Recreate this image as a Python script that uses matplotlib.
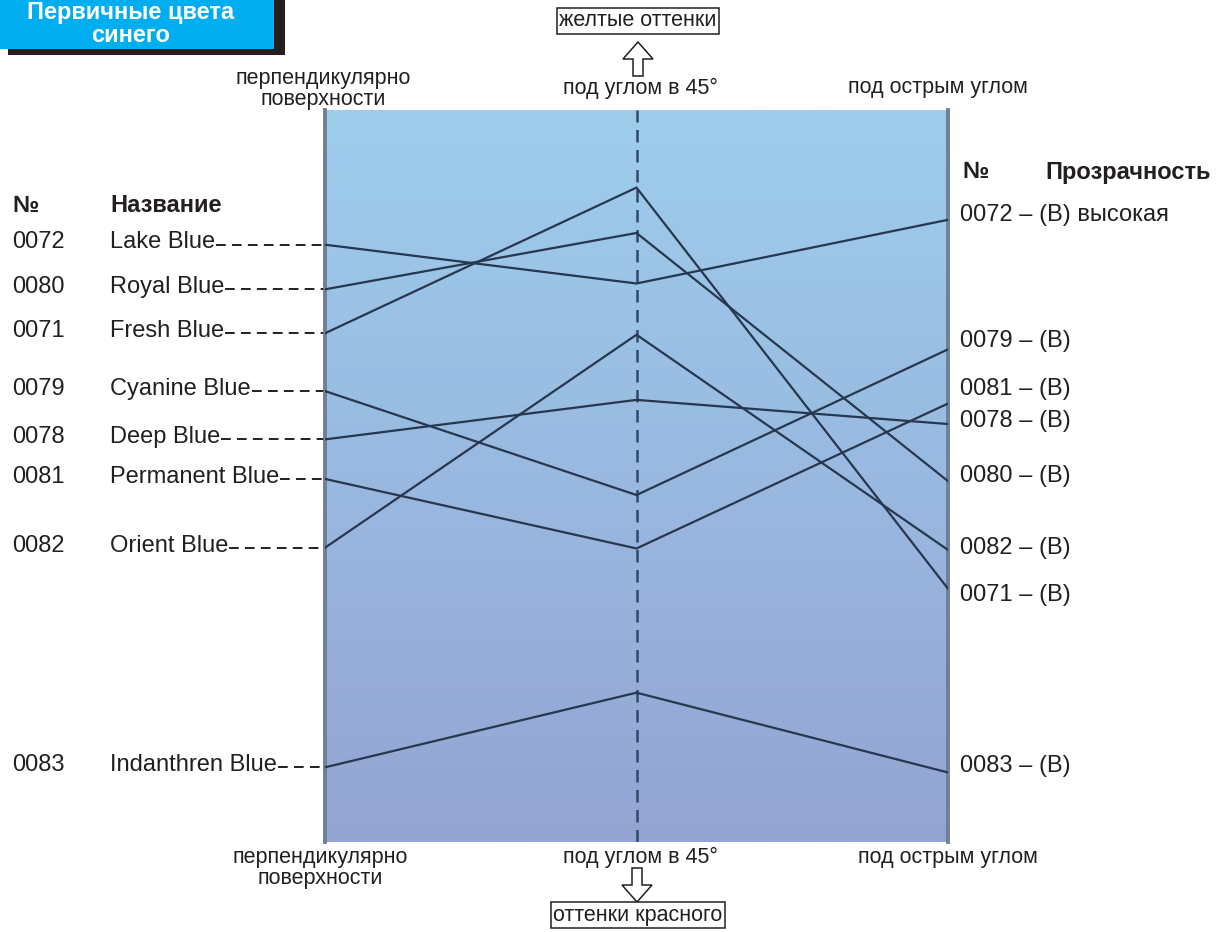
import matplotlib.pyplot as plt
import numpy as np
from matplotlib.colors import LinearSegmentedColormap
from matplotlib.patches import Rectangle, Polygon
from matplotlib.transforms import blended_transform_factory

plt.rcParams['font.family'] = ['Liberation Sans', 'DejaVu Sans']

# colours in left-hand order
codes = ["0072", "0080", "0071", "0079", "0078", "0081", "0082", "0083"]
names = ["Lake Blue", "Royal Blue", "Fresh Blue", "Cyanine Blue", "Deep Blue",
         "Permanent Blue", "Orient Blue", "Indanthren Blue"]
# relative position (0..100) at the three viewing angles
val_perp = [81.6, 75.5, 69.5, 61.6, 55.0, 49.6, 40.2, 10.2]
val_45 = [76.3, 83.2, 89.4, 47.4, 60.4, 40.1, 69.3, 20.4]
val_acute = [85.0, 49.3, 34.6, 67.3, 57.1, 59.9, 39.9, 9.5]

# right-hand column
right_codes = ["0072", "0079", "0081", "0078", "0080", "0082", "0071", "0083"]
right_notes = ["(В) высокая", "(В)", "(В)", "(В)", "(В)", "(В)", "(В)", "(В)"]
right_pos = [85.7, 68.4, 61.9, 57.5, 50.0, 40.2, 33.7, 10.4]

W, H = 1224, 932
fig = plt.figure(figsize=(W / 100, H / 100), dpi=100)
bg = fig.add_axes([0, 0, 1, 1])
bg.set_xlim(0, W)
bg.set_ylim(H, 0)
bg.axis("off")

# panel
px0, px1, py0, py1 = 325, 948, 110, 842
ax = fig.add_axes([px0 / W, 1 - py1 / H, (px1 - px0) / W, (py1 - py0) / H])
ax.set_xlim(0, 2)
ax.set_ylim(0, 100)
cmap = LinearSegmentedColormap.from_list("panel", ["#94a4d2", "#99b9e0", "#9ecdec"])
ax.imshow(np.linspace(0, 1, 256).reshape(-1, 1), extent=[0, 2, 0, 100],
          aspect="auto", cmap=cmap, origin="lower", zorder=0)
ax.set_xticks([])
ax.set_yticks([])
for s in ["top", "bottom"]:
    ax.spines[s].set_visible(False)
for s in ["left", "right"]:
    ax.spines[s].set_color("#6f7f96")
    ax.spines[s].set_linewidth(2.8)

ax.axvline(1, color="#2d4a6b", lw=1.8, dashes=(5, 3), zorder=2)
for a, b, c in zip(val_perp, val_45, val_acute):
    ax.plot([0, 1, 2], [a, b, c], color="#26374f", lw=1.6, zorder=3,
            solid_joinstyle="miter")

fs = 17
small = 15.5
ink = "#231f20"
blend = blended_transform_factory(bg.transData, ax.transData)

# left column
bg.text(12, 205, "№", fontsize=fs, fontweight="bold", va="center", color=ink)
bg.text(110, 205, "Название", fontsize=fs, fontweight="bold", va="center", color=ink)
name_texts = []
for c, n, v in zip(codes, names, val_perp):
    bg.text(12, v + 0.3, c, fontsize=fs, va="center", transform=blend, color=ink)
    t = bg.text(110, v + 0.3, n, fontsize=fs, va="center", transform=blend, color=ink)
    name_texts.append((t, v))

fig.canvas.draw()
inv = bg.transData.inverted()
for t, v in name_texts:
    bb = t.get_window_extent()
    xe = inv.transform((bb.x1, bb.y0))[0]
    bg.plot([xe + 1, px0], [v, v], transform=blend, color=ink,
            lw=1.4, dashes=(5, 3.2))

# right column
bg.text(962, 172, "№", fontsize=fs, fontweight="bold", va="center", color=ink)
bg.text(1045, 172, "Прозрачность", fontsize=fs, fontweight="bold", va="center",
        color=ink)
for c, n, v in zip(right_codes, right_notes, right_pos):
    bg.text(960, v, f"{c} – {n}", fontsize=fs, va="center", transform=blend,
            color=ink)

# angle captions
for y in (88, 857):
    bg.text(640, y, "под углом в 45°", fontsize=small, ha="center", va="center",
            color=ink)
bg.text(323, 89, "перпендикулярно\nповерхности", fontsize=small, ha="center",
        va="center", linespacing=1.05, color=ink)
bg.text(938, 88, "под острым углом", fontsize=small, ha="center", va="center",
        color=ink)
bg.text(320, 868, "перпендикулярно\nповерхности", fontsize=small, ha="center",
        va="center", linespacing=1.05, color=ink)
bg.text(948, 857, "под острым углом", fontsize=small, ha="center", va="center",
        color=ink)

# boxes with arrows
box = dict(boxstyle="square,pad=0.1", fc="white", ec=ink, lw=1.1)
bg.text(638, 21, "желтые оттенки", fontsize=small, ha="center", va="center",
        bbox=box, color=ink)
bg.text(638, 915, "оттенки красного", fontsize=small, ha="center", va="center",
        bbox=box, color=ink)
up = [(638, 42), (653, 59), (643, 59), (643, 76), (633, 76), (633, 59), (623, 59)]
dn = [(637, 902), (652, 885), (642, 885), (642, 868), (632, 868), (632, 885), (622, 885)]
for pts in (up, dn):
    bg.add_patch(Polygon(pts, closed=True, fc="white", ec=ink, lw=1.1))

# title tab
bg.add_patch(Rectangle((8, 0), 277, 55, fc=ink, ec="none"))
bg.add_patch(Rectangle((0, 0), 274, 49, fc="#00aeef", ec="none"))
bg.text(131, 12, "Первичные цвета", fontsize=17, fontweight="bold",
        color="white", ha="center", va="center")
bg.text(131, 36, "синего", fontsize=17, fontweight="bold",
        color="white", ha="center", va="center")

fig.savefig("out.png", dpi=100)
